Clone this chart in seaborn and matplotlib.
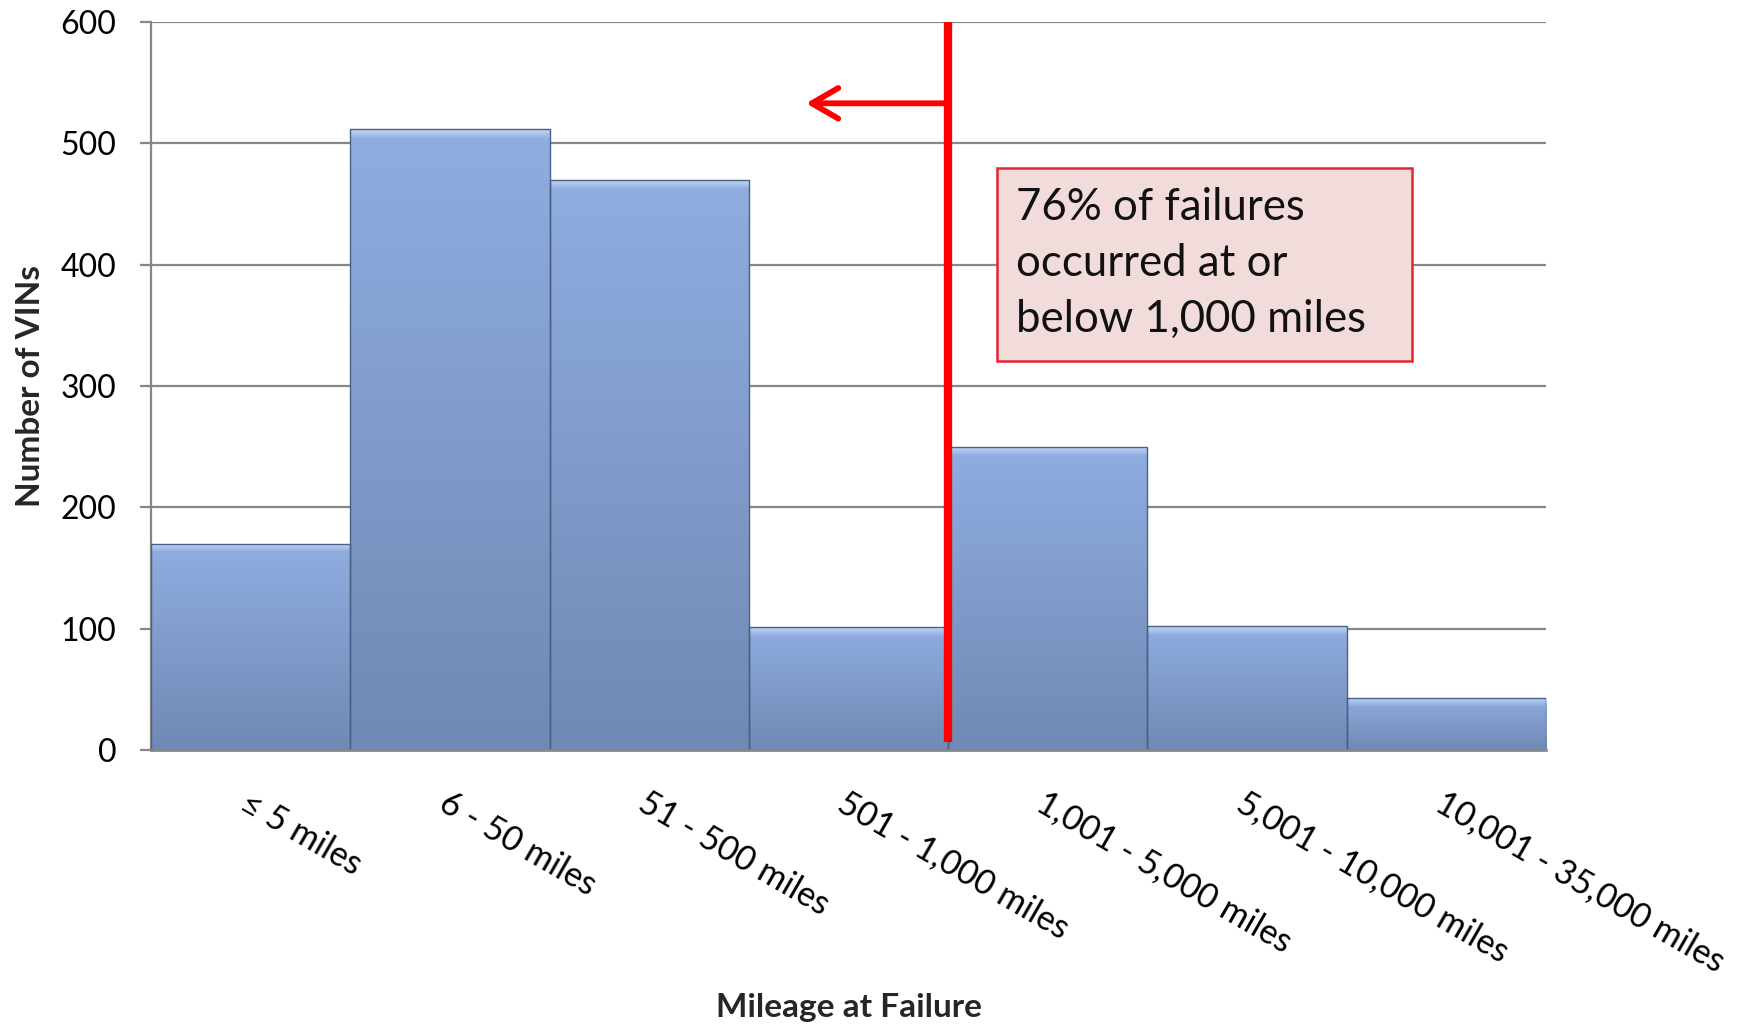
import numpy as np
import pandas as pd
import matplotlib
matplotlib.use("Agg")
import matplotlib.pyplot as plt
from matplotlib.patches import Rectangle
from matplotlib.colors import to_rgb
import seaborn as sns

# Failure counts by mileage band
mileage_bands = ["≤ 5 miles", "6 - 50 miles", "51 - 500 miles", "501 - 1,000 miles",
                 "1,001 - 5,000 miles", "5,001 - 10,000 miles", "10,001 - 35,000 miles"]
vin_counts = [170, 512, 470, 101, 250, 102, 43]
y_ticks = [0, 100, 200, 300, 400, 500, 600]
callout_text = "76% of failures\noccurred at or\nbelow 1,000 miles"
threshold_pos = 3.5      # boundary between the 501-1,000 and 1,001-5,000 bands
arrow_level = 533

df = pd.DataFrame({"mileage": mileage_bands, "vins": vin_counts})

sns.set_theme(style="white")
plt.rcParams["font.family"] = ["Lato", "DejaVu Sans"]

fig = plt.figure(figsize=(17.5, 10.29), dpi=100)
ax = fig.add_axes([0.0863, 0.2711, 0.7971, 0.7075])

grid_col = "#878787"
sns.barplot(data=df, x="mileage", y="vins", order=mileage_bands, color="#8aa5d6",
            width=1.0, edgecolor="#4b5f84", linewidth=1.0, ax=ax, zorder=3)

# Vertical gradient with a light bevel on top of each bar
top_c = np.array(to_rgb("#90ade1"))
bot_c = np.array(to_rgb("#7089b4"))
bevel_c = np.array(to_rgb("#c3d6f3"))
for p in ax.patches:
    x0, w, h = p.get_x(), p.get_width(), p.get_height()
    n = 200
    t = np.linspace(0, 1, n)[:, None]
    rows = top_c * (1 - t) + bot_c * t
    bevel_units = 7.0
    frac = min(bevel_units / h, 0.5)
    bevel_rows = int(round(frac * n))
    for i in range(bevel_rows):
        a = i / max(bevel_rows, 1)
        rows[i] = bevel_c * (1 - a) + top_c * a
    img = np.repeat(rows[:, None, :], 10, axis=1)
    im = ax.imshow(img, extent=[x0, x0 + w, 0, h], aspect="auto",
                   origin="upper", zorder=3.5, interpolation="bilinear")
    im.set_clip_path(p)
    p.set_facecolor("none")
    p.set_zorder(4)

ax.set_xlim(-0.5, 6.5)
ax.set_ylim(0, 600)
ax.set_yticks(y_ticks)

# Grid and spines
ax.yaxis.grid(True, color=grid_col, linewidth=1.6, zorder=1)
ax.set_axisbelow(True)
for s in ["top", "right"]:
    ax.spines[s].set_visible(False)
ax.spines["left"].set_color(grid_col)
ax.spines["left"].set_linewidth(1.6)
ax.spines["bottom"].set_color(grid_col)
ax.spines["bottom"].set_linewidth(2.0)
ax.spines["bottom"].set_zorder(5)

ax.tick_params(axis="y", which="both", left=True, length=8, width=1.6,
               color=grid_col, pad=17, labelsize=23, labelcolor="black")
ax.tick_params(axis="x", length=0, pad=26, labelsize=24.5, labelcolor="black")
for lab in ax.get_xticklabels():
    lab.set_rotation(-30)
    lab.set_ha("left")
    lab.set_va("top")
    lab.set_rotation_mode("anchor")

ax.set_xlabel("Mileage at Failure", fontsize=24, fontweight="bold")
ax.xaxis.set_label_coords(0.5, -0.334)
ax.set_ylabel("Number of VINs", fontsize=24, fontweight="bold", labelpad=11)

# Threshold line with leftward arrow
ax.plot([threshold_pos, threshold_pos], [7, 600], color="#ff0000", linewidth=6,
        solid_capstyle="butt", zorder=6)
ax.annotate("", xy=(2.787, arrow_level), xytext=(threshold_pos, arrow_level),
            arrowprops=dict(arrowstyle="->, head_length=0.95, head_width=0.55",
                            color="#ff0000", lw=4.2, mutation_scale=20,
                            shrinkA=0, shrinkB=0),
            zorder=6)

# Callout box
ax.add_patch(Rectangle((3.745, 321), 2.085, 159, facecolor="#f2dcdb",
                       edgecolor="#e3262d", linewidth=1.8, zorder=7))
ax.text(3.84, 401, callout_text, fontsize=31.5, color="#111111", ha="left",
        va="center", linespacing=1.45, zorder=8)

fig.savefig("out.png", dpi=100, facecolor="white")
